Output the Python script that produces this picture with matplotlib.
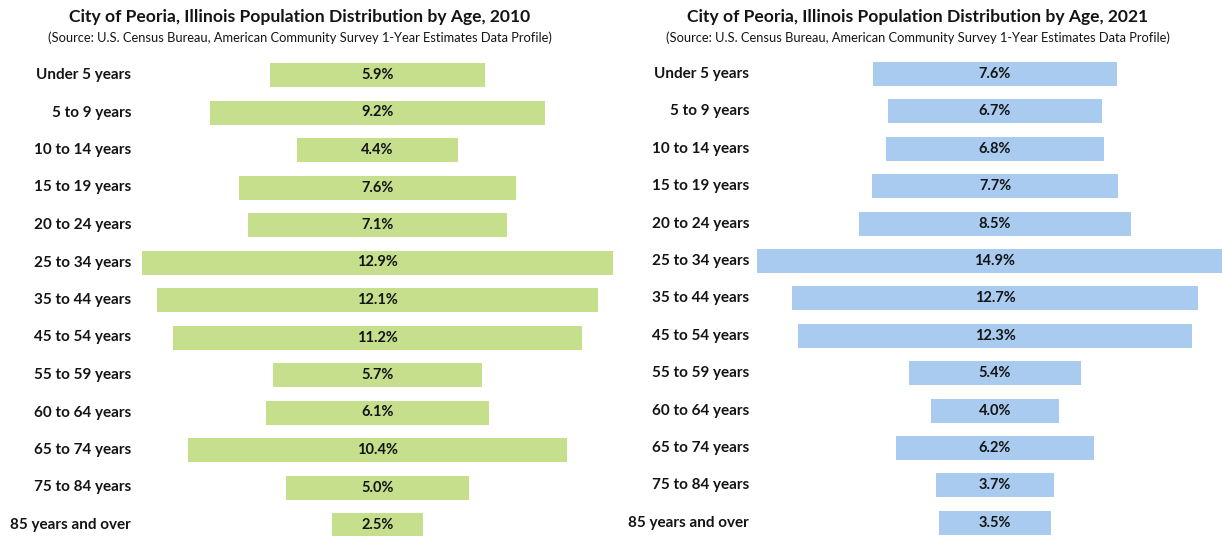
import matplotlib
matplotlib.use("Agg")
import matplotlib.pyplot as plt
from matplotlib.transforms import blended_transform_factory

categories = ["Under 5 years", "5 to 9 years", "10 to 14 years", "15 to 19 years",
              "20 to 24 years", "25 to 34 years", "35 to 44 years", "45 to 54 years",
              "55 to 59 years", "60 to 64 years", "65 to 74 years", "75 to 84 years",
              "85 years and over"]
values_2010 = [5.9, 9.2, 4.4, 7.6, 7.1, 12.9, 12.1, 11.2, 5.7, 6.1, 10.4, 5.0, 2.5]
values_2021 = [7.6, 6.7, 6.8, 7.7, 8.5, 14.9, 12.7, 12.3, 5.4, 4.0, 6.2, 3.7, 3.5]

titles = ["City of Peoria, Illinois Population Distribution by Age, 2010",
          "City of Peoria, Illinois Population Distribution by Age, 2021"]
subtitle = "(Source: U.S. Census Bureau, American Community Survey 1-Year Estimates Data Profile)"

W, H = 1222, 536
fig = plt.figure(figsize=(W / 100, H / 100), dpi=100)
fig.patch.set_facecolor("white")

FONT = ["Lato", "DejaVu Sans"]
TXT = "#141414"

panels = [
    dict(vals=values_2010, color="#c5df8d", ax_px=(135, 622), center=377.5, scale=36.5,
         row0=75, step=37.5, label_x=131, title_x=300),
    dict(vals=values_2021, color="#a8cbef", ax_px=(752, 1222), center=995, scale=32.0,
         row0=74, step=37.4, label_x=749, title_x=918),
]

top_px, bot_px = 55, 536
for k, p in enumerate(panels):
    x0, x1 = p["ax_px"]
    ax = fig.add_axes([x0 / W, 1 - bot_px / H, (x1 - x0) / W, (bot_px - top_px) / H])
    ax.set_xlim((x0 - p["center"]) / p["scale"], (x1 - p["center"]) / p["scale"])
    ax.set_ylim((bot_px - p["row0"]) / p["step"], (top_px - p["row0"]) / p["step"])
    ax.axis("off")
    ys = list(range(len(categories)))
    ax.barh(ys, p["vals"], left=[-v / 2 for v in p["vals"]], height=0.64,
            color=p["color"], edgecolor="none")
    for y, v in zip(ys, p["vals"]):
        ax.text(0, y, f"{v:.1f}%", ha="center", va="center", fontsize=10.5,
                fontweight="bold", color=TXT, family=FONT)
    tr = blended_transform_factory(fig.transFigure, ax.transData)
    for y, c in zip(ys, categories):
        ax.text(p["label_x"] / W, y, c, transform=tr, ha="right", va="center",
                fontsize=11, fontweight="bold", color=TXT, family=FONT)
    fig.text(p["title_x"] / W, 1 - 17 / H, titles[k], ha="center", va="center",
             fontsize=12.6, fontweight="bold", color=TXT, family=FONT)
    fig.text(p["title_x"] / W, 1 - 38 / H, subtitle, ha="center", va="center",
             fontsize=9.3, color=TXT, family=FONT)

fig.savefig("out.png", dpi=100, facecolor="white")
